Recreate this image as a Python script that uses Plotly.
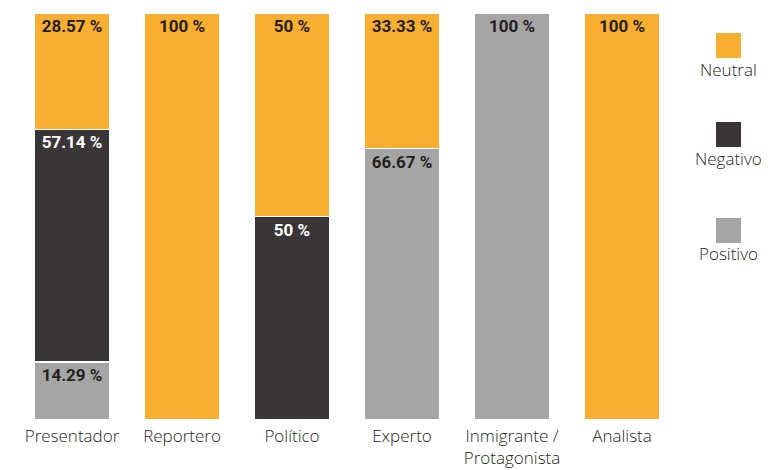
import plotly.graph_objects as go

categories = ["Presentador", "Reportero", "Político", "Experto", "Inmigrante /<br>Protagonista", "Analista"]
positivo = [14.29, 0, 0, 66.67, 100, 0]
negativo = [57.14, 0, 50, 0, 0, 0]
neutral = [28.57, 100, 50, 33.33, 0, 100]

series = [
    ("Positivo", positivo, "#A5A5A5", "#231F20"),
    ("Negativo", negativo, "#3A3637", "#FFFFFF"),
    ("Neutral", neutral, "#F8AE31", "#231F20"),
]

def fmt(v):
    if v == 0:
        return ""
    s = ("%.2f" % v).rstrip("0").rstrip(".")
    return s + " %"

fig = go.Figure()
for name, vals, color, tcol in series:
    fig.add_trace(go.Bar(
        x=categories, y=vals, name=name,
        marker=dict(color=color, line=dict(color="white", width=1.5)),
        text=[fmt(v) for v in vals],
        textposition="inside", insidetextanchor="end",
        textangle=0, constraintext="none",
        textfont=dict(family="Roboto", size=17, color=tcol, weight="bold"),
        width=0.68, showlegend=False, hoverinfo="skip",
    ))

# custom legend: square above label
legend_items = [("Neutral", "#F8AE31"), ("Negativo", "#3A3637"), ("Positivo", "#A5A5A5")]
sq_top = [33, 122, 218]
for (name, color), top in zip(legend_items, sq_top):
    y0 = 1 - (top - 13) / 407
    y1 = 1 - (top + 25 - 13) / 407
    fig.add_shape(type="rect", xref="paper", yref="paper",
                  x0=1 + (716 - 677) / 660, x1=1 + (741 - 677) / 660,
                  y0=y1, y1=y0, fillcolor=color, line=dict(width=0))
    fig.add_annotation(xref="paper", yref="paper", x=1 + (728.5 - 677) / 660,
                       y=1 - (top + 36 - 13) / 407, text=name, showarrow=False,
                       xanchor="center", yanchor="middle",
                       font=dict(family="Open Sans", size=17, color="#262626", weight=300))

fig.update_layout(
    barmode="stack",
    width=770, height=470,
    margin=dict(l=17, r=93, t=13, b=50, autoexpand=False),
    plot_bgcolor="white", paper_bgcolor="white",
    xaxis=dict(showgrid=False, showline=False, ticks="", range=[-0.5, 5.5],
               automargin=False,
               tickfont=dict(family="Open Sans", size=17, color="#262626", weight=300),
               ticklabelstandoff=4),
    yaxis=dict(showgrid=False, showticklabels=False, zeroline=False, range=[0, 100],
               automargin=False),
)

fig.write_html("out.html")
